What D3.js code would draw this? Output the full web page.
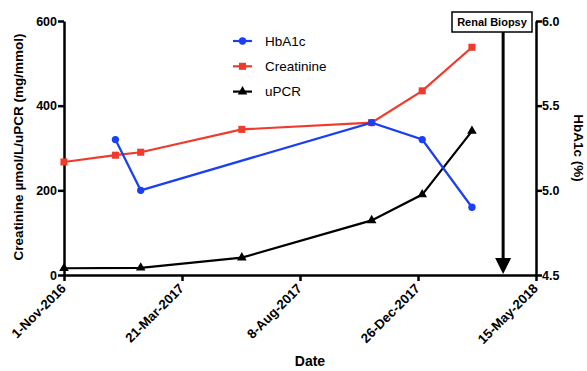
<!DOCTYPE html>
<html><head><meta charset="utf-8">
<script src="https://cdn.jsdelivr.net/npm/d3@7"></script>
<style>body{margin:0;background:#fff;} svg{font-family:"Liberation Sans",Arial,sans-serif;}</style>
</head><body><svg id="c" width="587" height="371"></svg>
<script>
const xTicks = ["2016-11-01","2017-03-21","2017-08-08","2017-12-26","2018-05-15"];
const creatDates = ["2016-11-01","2017-01-01","2017-01-31","2017-05-31","2017-11-01","2017-12-31","2018-02-28"];
const creatinine = [267, 283, 290, 344, 360, 435, 538];
const hbDates = ["2017-01-01","2017-01-31","2017-11-01","2017-12-31","2018-02-28"];
const hba1c = [5.3, 5.0, 5.4, 5.3, 4.9];
const upcrDates = ["2016-11-01","2017-01-31","2017-05-31","2017-11-01","2017-12-31","2018-02-28"];
const upcr = [16, 17, 41, 129, 190, 340];
const leftTicks = [0, 200, 400, 600];
const rightTicks = [4.5, 5.0, 5.5, 6.0];
const biopsyDate = "2018-04-06";

const p = d3.utcParse("%Y-%m-%d");
const fmt = d3.utcFormat("%-d-%b-%Y");
const svg = d3.select("#c");
const L = 64, R = 536, T = 21, B = 275;
const x = d3.scaleUtc().domain([p(xTicks[0]), p(xTicks[4])]).range([L, R]);
const yL = d3.scaleLinear().domain([0, 600]).range([B, T]);
const yR = d3.scaleLinear().domain([4.5, 6.0]).range([B, T]);

const blue = "#1a3ff5", red = "#ef3b2c", black = "#000";

function styleAxis(g){
  g.selectAll(".domain").attr("stroke", "#000").attr("stroke-width", 2.5);
  g.selectAll(".tick line").attr("stroke", "#000").attr("stroke-width", 2.5);
  g.selectAll(".tick text").attr("font-size", 12.5).attr("font-weight", "bold").attr("fill", "#000")
    .attr("font-family", '"Liberation Sans",Arial,sans-serif');
}
const gx = svg.append("g").attr("transform", `translate(0,${B})`)
  .call(d3.axisBottom(x).tickValues(xTicks.map(p)).tickFormat(fmt).tickSize(6).tickSizeOuter(0));
styleAxis(gx);
gx.selectAll(".tick text").attr("font-size", 13.2).attr("text-anchor", "end")
  .attr("transform", "translate(-1,11) rotate(-45)").attr("dy", "0.35em").attr("y", 0);

const gl = svg.append("g").attr("transform", `translate(${L},0)`)
  .call(d3.axisLeft(yL).tickValues(leftTicks).tickSize(6).tickSizeOuter(0));
styleAxis(gl);
gl.selectAll(".tick text").attr("x", -7);

const gr = svg.append("g").attr("transform", `translate(${R},0)`)
  .call(d3.axisRight(yR).tickValues(rightTicks).tickFormat(d3.format(".1f")).tickSize(6).tickSizeOuter(0));
styleAxis(gr);
gr.selectAll(".tick text").attr("x", 6);

// titles
svg.append("text").attr("transform", `translate(23,147) rotate(-90)`).attr("text-anchor", "middle")
  .attr("font-size", 13.5).attr("font-weight", "bold").text("Creatinine µmol/L/uPCR (mg/mmol)");
svg.append("text").attr("transform", `translate(574,148) rotate(90)`).attr("text-anchor", "middle")
  .attr("font-size", 13.5).attr("font-weight", "bold").text("HbA1c (%)");
svg.append("text").attr("x", 310).attr("y", 366).attr("text-anchor", "middle")
  .attr("font-size", 14).attr("font-weight", "bold").text("Date");

// series
const lineGen = (ys) => d3.line().x(d => x(p(d[0]))).y(d => ys(d[1]));
const cData = creatDates.map((d,i)=>[d, creatinine[i]]);
const hData = hbDates.map((d,i)=>[d, hba1c[i]]);
const uData = upcrDates.map((d,i)=>[d, upcr[i]]);

svg.append("path").datum(uData).attr("d", lineGen(yL)).attr("fill","none").attr("stroke",black).attr("stroke-width",2.2);
svg.append("path").datum(cData).attr("d", lineGen(yL)).attr("fill","none").attr("stroke",red).attr("stroke-width",2.2);
svg.append("path").datum(hData).attr("d", lineGen(yR)).attr("fill","none").attr("stroke",blue).attr("stroke-width",2.2);

const sq = d3.symbol().type(d3.symbolSquare).size(50);
const ci = d3.symbol().type(d3.symbolCircle).size(42);
const tr = d3.symbol().type(d3.symbolTriangle).size(40);

svg.selectAll(".u").data(uData).join("path").attr("d", tr).attr("fill", black)
  .attr("transform", d => `translate(${x(p(d[0]))},${yL(d[1])})`);
svg.selectAll(".c").data(cData).join("path").attr("d", sq).attr("fill", red)
  .attr("transform", d => `translate(${x(p(d[0]))},${yL(d[1])})`);
svg.selectAll(".h").data(hData).join("path").attr("d", ci).attr("fill", blue)
  .attr("transform", d => `translate(${x(p(d[0]))},${yR(d[1])})`);

// legend
const leg = [["HbA1c", blue, ci], ["Creatinine", red, sq], ["uPCR", black, tr]];
leg.forEach((l, i) => {
  const yy = 41 + i * 25.3;
  svg.append("line").attr("x1", 233).attr("x2", 252).attr("y1", yy).attr("y2", yy).attr("stroke", l[1]).attr("stroke-width", 2.2);
  svg.append("path").attr("d", l[2]).attr("fill", l[1]).attr("transform", `translate(242.5,${yy})`);
  svg.append("text").attr("x", 265).attr("y", yy).attr("dy", "0.36em").attr("font-size", 13.5).text(l[0]);
});

// renal biopsy annotation
const bx = x(p(biopsyDate));
svg.append("rect").attr("x", 452).attr("y", 12).attr("width", 80).attr("height", 20)
  .attr("fill", "#fff").attr("stroke", "#000").attr("stroke-width", 1.5);
svg.append("text").attr("x", 492).attr("y", 22.5).attr("dy", "0.35em").attr("text-anchor", "middle")
  .attr("font-size", 11).attr("font-weight", "bold").text("Renal Biopsy");
svg.append("line").attr("x1", bx).attr("x2", bx).attr("y1", 32).attr("y2", 262).attr("stroke", "#000").attr("stroke-width", 3);
svg.append("path").attr("d", `M${bx-8},${258} L${bx+8},${258} L${bx},${274} Z`).attr("fill", "#000");
</script></body></html>
